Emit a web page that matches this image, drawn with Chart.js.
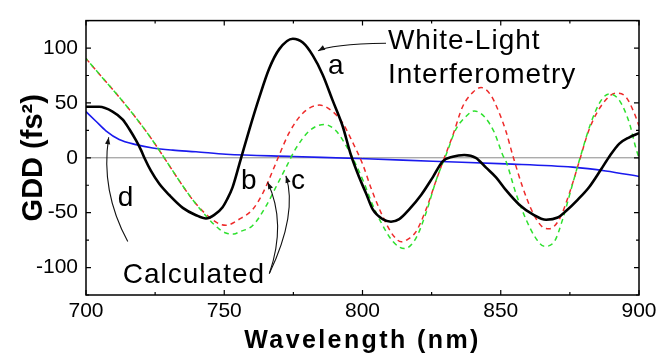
<!DOCTYPE html>
<html>
<head>
<meta charset="utf-8">
<script src="https://cdn.jsdelivr.net/npm/chart.js@4.4.1/dist/chart.umd.min.js"></script>
<style>
  html, body { margin: 0; padding: 0; background: #fff; }
  canvas { display: block; }
</style>
</head>
<body>
<canvas id="gdd" width="668" height="356"></canvas>
<script>
(function () {
  'use strict';

  // a: white-light interferometry (measured)
  const measWl  = [700, 704.8, 709.6, 713.3, 715.7, 718.1, 719.9, 721.1, 723.5, 726.5, 730.1, 735, 739.8, 743.4, 746.4, 749.4, 751, 753, 756.1, 759.1, 762.7, 766.3, 769.9, 774.8, 778.4, 782, 785.6, 789.2, 792.8, 795.8, 798.8, 801.3, 803.7, 807.3, 810.3, 813.3, 816.9, 821.2, 825.4, 829, 832.6, 836.8, 841, 844.7, 848.3, 851.9, 856.7, 861.6, 866.4, 870.6, 873.6, 877.8, 882, 886.3, 889.3, 892.9, 896.5, 900];
  const measGdd = [46.5, 46.5, 42.1, 34.8, 26, 15.8, 7, 0, -12, -23.7, -33.9, -45.6, -52.3, -55.3, -52, -45, -38, -27, 0, 26, 55.3, 81.6, 99, 108.5, 105, 93.3, 75.7, 52.3, 29, 2.6, -17.8, -32.5, -47, -55.9, -58.2, -55.9, -47, -33.9, -17.8, -3.2, 1, 2.6, 0, -9, -17.8, -29.5, -42.7, -51.5, -56.4, -54.4, -48.5, -38.3, -26.6, -10.5, 1.2, 12.9, 18.7, 22.5];

  // b: calculated (red dashed)
  const calcBWl  = [700, 706, 712, 718.1, 724.1, 728.3, 733.7, 738.6, 743.4, 748.2, 750.6, 755.4, 760.3, 763.9, 767.5, 769.9, 773.5, 778.4, 784.4, 789.2, 792.8, 796.4, 800.1, 803, 806, 809, 811.5, 814, 816.5, 819.3, 823, 826.6, 829.6, 832.6, 836.2, 839.9, 842.9, 846.5, 849.5, 851.9, 854.3, 857.9, 861.6, 865.2, 867.6, 871.2, 874.8, 878.4, 882, 886.9, 891.7, 895.3, 898.3, 900];
  const calcBGdd = [90.4, 72.8, 55.3, 36.3, 15.8, 0, -20.8, -38.3, -51.5, -60.2, -61.5, -56, -47, -32.5, -12, 2.6, 23, 40.6, 48, 42.1, 31.8, 14.3, -6.1, -27, -46, -62, -72, -76.5, -74, -67.5, -47, -20.8, 0, 20, 46.5, 59.6, 64, 56.7, 40.6, 24, 2.6, -26.6, -50, -63.2, -64.6, -55.9, -32.5, -3.2, 26, 49.4, 58.8, 55.3, 40.6, 29];

  // c: calculated (green dashed)
  const calcCWl  = [700, 706, 712, 718.1, 724.1, 728.3, 733.7, 738.6, 743.4, 748.2, 750.6, 753.5, 755.4, 760.3, 765.1, 768.7, 772.3, 775.9, 780.8, 786.2, 790.4, 794, 797.6, 800.7, 803.5, 806.1, 811, 815.1, 819.3, 823, 826.6, 830.2, 833.8, 837.4, 840.4, 844, 847.7, 850.7, 851.9, 855.5, 859.1, 862.7, 865.8, 869.4, 872.4, 876, 879, 882.6, 886.3, 889.3, 892.9, 896.5, 898.9, 900];
  const calcCGdd = [90.4, 72.8, 55.3, 36.3, 15.8, 0, -20.8, -38.3, -53, -65, -68.5, -69.5, -67.5, -61.7, -44.1, -26.6, -9, 8.5, 24.6, 30.4, 24.6, 11.4, -6.1, -23.7, -42, -55.9, -76.3, -82.7, -73.4, -50, -20.8, 2.6, 26, 37.7, 42.7, 37.7, 23, 2.6, -3.2, -32.5, -55.9, -73.4, -80.7, -76.3, -55.9, -23.7, 2.6, 31.8, 52.3, 58.2, 52.3, 31.8, 8.5, 0];

  // d: blue solid
  const curveDWl  = [700, 703.6, 707.2, 712, 718.1, 724.1, 731.4, 739.8, 750.6, 774.8, 801.3, 825.4, 851.9, 876, 888, 900];
  const curveDGdd = [42.1, 33.3, 24.6, 16.7, 12, 9, 7, 5.5, 3.2, 1.2, -0.9, -3.2, -5.5, -8.5, -12, -17];

  const xTicks = [700, 750, 800, 850, 900];
  const yTicks = [-100, -50, 0, 50, 100];

  const FONT = '"Liberation Sans", Arial, Helvetica, sans-serif';

  // labels placed in data units (wavelength, GDD)
  const labels = [
    { text: 'White-Light',    x: 809.2, y: 99.1 },
    { text: 'Interferometry', x: 809.2, y: 68.4 },
    { text: 'a',              x: 787.5, y: 76.3 },
    { text: 'b',              x: 756.1, y: -28 },
    { text: 'c',              x: 774.1, y: -28 },
    { text: 'd',              x: 711.5, y: -44 },
    { text: 'Calculated',     x: 713.3, y: -114.3 },
  ];
  // quadratic arrows: start, control, head
  const arrows = [
    { from: [808.5, 104.4], ctrl: [788.2, 103.5], to: [783.9, 97.4] },
    { from: [715.1, -76.3], ctrl: [705.2, -30.3], to: [708.2, 18.7] },
    { from: [766.3, -105.5], ctrl: [772.6, -59.5], to: [765.7, -22.2] },
    { from: [766.3, -105.5], ctrl: [776.6, -50.8], to: [772.3, -16.4] },
  ];

  function pts(xs, ys) { return xs.map((x, i) => ({ x: x, y: ys[i] })); }

  const decor = {
    id: 'decor',
    beforeDatasetsDraw(chart) {
      const { ctx, chartArea: a, scales: { y } } = chart;
      const y0 = y.getPixelForValue(0);
      ctx.save();
      ctx.strokeStyle = '#8a8a8a';
      ctx.lineWidth = 1;
      ctx.beginPath();
      ctx.moveTo(a.left, y0); ctx.lineTo(a.right, y0);
      ctx.stroke();
      ctx.restore();
    },
    afterDatasetsDraw(chart) {
      const { ctx, chartArea: a, scales: { x, y } } = chart;
      const px = v => x.getPixelForValue(v);
      const py = v => y.getPixelForValue(v);
      ctx.save();

      // frame
      ctx.strokeStyle = '#000';
      ctx.lineWidth = 1.5;
      ctx.strokeRect(a.left, a.top, a.right - a.left, a.bottom - a.top);

      // inward ticks on all four sides
      ctx.lineWidth = 1.2;
      ctx.beginPath();
      x.ticks.forEach(t => {
        const len = xTicks.includes(t.value) ? 5 : 3;
        const p = px(t.value);
        ctx.moveTo(p, a.bottom); ctx.lineTo(p, a.bottom - len);
        ctx.moveTo(p, a.top); ctx.lineTo(p, a.top + len);
      });
      y.ticks.forEach(t => {
        const len = yTicks.includes(t.value) ? 5 : 3;
        const p = py(t.value);
        ctx.moveTo(a.left, p); ctx.lineTo(a.left + len, p);
        ctx.moveTo(a.right, p); ctx.lineTo(a.right - len, p);
      });
      ctx.stroke();

      // arrows
      ctx.strokeStyle = '#111';
      ctx.fillStyle = '#111';
      ctx.lineWidth = 1.1;
      arrows.forEach(ar => {
        const s = [px(ar.from[0]), py(ar.from[1])];
        const c = [px(ar.ctrl[0]), py(ar.ctrl[1])];
        const e = [px(ar.to[0]), py(ar.to[1])];
        ctx.beginPath();
        ctx.moveTo(s[0], s[1]);
        ctx.quadraticCurveTo(c[0], c[1], e[0], e[1]);
        ctx.stroke();
        const ang = Math.atan2(e[1] - c[1], e[0] - c[0]);
        ctx.beginPath();
        ctx.moveTo(e[0], e[1]);
        ctx.lineTo(e[0] - 7 * Math.cos(ang) + 2.6 * Math.sin(ang), e[1] - 7 * Math.sin(ang) - 2.6 * Math.cos(ang));
        ctx.lineTo(e[0] - 7 * Math.cos(ang) - 2.6 * Math.sin(ang), e[1] - 7 * Math.sin(ang) + 2.6 * Math.cos(ang));
        ctx.closePath();
        ctx.fill();
      });

      // annotation text
      ctx.fillStyle = '#000';
      ctx.font = '28px ' + FONT;
      ctx.letterSpacing = '1px';
      ctx.textAlign = 'left';
      ctx.textBaseline = 'alphabetic';
      labels.forEach(l => ctx.fillText(l.text, px(l.x), py(l.y)));

      // axis titles
      ctx.font = 'bold 25px ' + FONT;
      ctx.letterSpacing = '2.4px';
      ctx.textAlign = 'center';
      ctx.fillText('Wavelength (nm)', (a.left + a.right) / 2, 348);

      ctx.letterSpacing = '0px';
      ctx.font = 'bold 29px ' + FONT;
      ctx.translate(42, (a.top + a.bottom) / 2);
      ctx.rotate(-Math.PI / 2);
      ctx.fillText('GDD (fs\u00B2)', 0, 0);
      ctx.restore();
    }
  };

  const tickFont = { family: FONT, size: 21 };

  new Chart(document.getElementById('gdd'), {
    type: 'line',
    data: {
      datasets: [
        { label: 'a', data: pts(measWl, measGdd), borderColor: '#000', borderWidth: 2.6, cubicInterpolationMode: 'monotone' },
        { label: 'c', data: pts(calcCWl, calcCGdd), borderColor: '#2ee02e', borderWidth: 1.5, borderDash: [5, 4], borderDashOffset: 2.5, cubicInterpolationMode: 'monotone' },
        { label: 'b', data: pts(calcBWl, calcBGdd), borderColor: '#ee2a2a', borderWidth: 1.5, borderDash: [5, 4], cubicInterpolationMode: 'monotone' },
        { label: 'd', data: pts(curveDWl, curveDGdd), borderColor: '#1a1aee', borderWidth: 1.6, cubicInterpolationMode: 'monotone' },
      ],
    },
    options: {
      responsive: false,
      animation: false,
      layout: { padding: { top: 11, right: 29, left: 0, bottom: 0 } },
      elements: { point: { radius: 0 } },
      plugins: { legend: { display: false }, tooltip: { enabled: false } },
      scales: {
        x: {
          type: 'linear', min: 700, max: 900,
          grid: { display: false, drawTicks: false },
          border: { display: false },
          ticks: { stepSize: 25, padding: 4, maxRotation: 0, autoSkip: false, color: '#000', font: tickFont,
                   callback: v => xTicks.includes(v) ? String(v) : '' },
          afterFit: s => { s.height = 61; },
        },
        y: {
          type: 'linear', min: -125, max: 125,
          grid: { display: false, drawTicks: false },
          border: { display: false },
          ticks: { stepSize: 25, padding: 8, autoSkip: false, color: '#000', font: tickFont,
                   callback: v => yTicks.includes(v) ? String(v) : '' },
          afterFit: s => { s.width = 86; },
        },
      },
    },
    plugins: [decor],
  });
})();
</script>
</body>
</html>
